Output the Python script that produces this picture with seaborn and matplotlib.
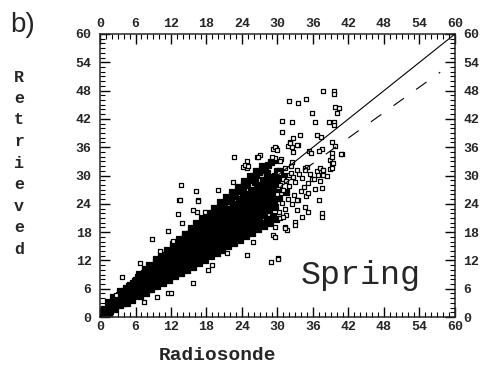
import matplotlib
matplotlib.use("Agg")
import matplotlib.pyplot as plt
from matplotlib.ticker import MultipleLocator
import numpy as np
import pandas as pd
import seaborn as sns

# (radiosonde, retrieved) pairs, grouped by region
core_0_6 = [
    (0.4, 0.6), (0.7, 1.1), (0.9, 0.4), (1.0, 1.5), (0.6, 1.8), (1.2, 0.9),
    (1.3, 1.6), (1.5, 2.4), (1.7, 1.2), (1.8, 2.9), (1.4, 3.1), (1.9, 2.0), (1.6, 0.9),
    (2.1, 2.2), (2.3, 3.5), (2.5, 1.8), (2.6, 4.0), (2.8, 2.9), (2.2, 4.3), (2.9, 3.6), (2.4, 2.6),
    (3.1, 3.0), (3.2, 4.6), (3.4, 2.5), (3.5, 5.2), (3.6, 3.8), (3.8, 4.4), (3.9, 2.9), (3.3, 5.6), (3.7, 3.3),
    (4.0, 4.1), (4.1, 5.6), (4.3, 3.4), (4.4, 6.2), (4.5, 4.8), (4.6, 3.0), (4.8, 5.3), (4.9, 6.6), (4.2, 4.5), (4.7, 4.0),
    (5.0, 4.6), (5.1, 6.8), (5.2, 3.9), (5.3, 5.7), (5.5, 7.3), (5.6, 4.4), (5.7, 6.1), (5.8, 5.0), (5.9, 7.6), (5.4, 3.6), (5.6, 6.5),
]
core_6_12 = [
    (6.0, 5.5), (6.1, 7.9), (6.2, 4.6), (6.3, 6.6), (6.4, 8.4), (6.5, 5.2), (6.6, 7.1), (6.7, 4.4), (6.8, 6.0), (6.9, 8.7), (6.3, 7.5), (6.6, 9.2),
    (7.0, 6.4), (7.1, 8.3), (7.2, 5.3), (7.3, 7.2), (7.4, 9.4), (7.5, 6.0), (7.6, 8.0), (7.7, 5.1), (7.8, 7.4), (7.9, 9.8), (7.3, 6.7), (7.6, 10.1),
    (8.0, 7.1), (8.1, 9.3), (8.2, 6.0), (8.3, 8.2), (8.4, 10.5), (8.5, 6.8), (8.6, 9.0), (8.7, 5.9), (8.8, 7.8), (8.9, 10.8), (8.3, 11.0), (8.6, 8.5),
    (9.0, 8.1), (9.1, 10.2), (9.2, 6.8), (9.3, 9.0), (9.4, 11.6), (9.5, 7.6), (9.6, 9.8), (9.7, 6.5), (9.8, 8.7), (9.9, 11.9), (9.4, 12.3), (9.7, 10.6),
    (10.0, 9.0), (10.1, 11.3), (10.2, 7.5), (10.3, 10.0), (10.4, 12.6), (10.5, 8.3), (10.6, 10.8), (10.7, 7.2), (10.8, 9.5), (10.9, 12.9), (10.3, 13.2), (10.6, 11.7), (10.8, 8.0),
    (11.0, 9.8), (11.1, 12.2), (11.2, 8.2), (11.3, 10.9), (11.4, 13.7), (11.5, 9.1), (11.6, 11.7), (11.7, 7.9), (11.8, 10.4), (11.9, 14.0), (11.3, 14.3), (11.6, 12.8), (11.8, 9.0),
]
core_12_18 = [
    (12.0, 10.7), (12.1, 13.1), (12.2, 8.9), (12.3, 11.8), (12.4, 14.8), (12.5, 9.9), (12.6, 12.6), (12.7, 8.6), (12.8, 11.3), (12.9, 15.2), (12.3, 15.5), (12.6, 13.8), (12.8, 9.8), (12.4, 10.3),
    (13.0, 11.6), (13.1, 14.1), (13.2, 9.6), (13.3, 12.7), (13.4, 15.9), (13.5, 10.6), (13.6, 13.5), (13.7, 9.3), (13.8, 12.2), (13.9, 16.3), (13.3, 16.6), (13.6, 14.8), (13.8, 10.5), (13.4, 11.2),
    (14.0, 12.4), (14.1, 15.0), (14.2, 10.4), (14.3, 13.6), (14.4, 17.0), (14.5, 11.4), (14.6, 14.4), (14.7, 10.0), (14.8, 13.1), (14.9, 17.5), (14.3, 17.7), (14.6, 15.9), (14.8, 11.2), (14.4, 12.0), (14.7, 16.6),
    (15.0, 13.3), (15.1, 16.0), (15.2, 11.1), (15.3, 14.5), (15.4, 18.1), (15.5, 12.2), (15.6, 15.4), (15.7, 10.7), (15.8, 14.0), (15.9, 18.6), (15.3, 18.8), (15.6, 17.0), (15.8, 12.0), (15.4, 12.9), (15.7, 16.5),
    (16.0, 14.1), (16.1, 17.0), (16.2, 11.9), (16.3, 15.4), (16.4, 19.2), (16.5, 13.0), (16.6, 16.3), (16.7, 11.4), (16.8, 14.9), (16.9, 19.7), (16.3, 19.9), (16.6, 18.0), (16.8, 12.8), (16.4, 13.8), (16.7, 17.5),
    (17.0, 15.0), (17.1, 18.0), (17.2, 12.6), (17.3, 16.3), (17.4, 20.3), (17.5, 13.8), (17.6, 17.2), (17.7, 12.1), (17.8, 15.8), (17.9, 20.8), (17.3, 21.0), (17.6, 19.0), (17.8, 13.6), (17.4, 14.6), (17.7, 18.5), (17.2, 17.6),
]
core_18_24 = [
    (18.0, 15.8), (18.1, 19.0), (18.2, 13.4), (18.3, 17.2), (18.4, 21.4), (18.5, 14.6), (18.6, 18.1), (18.7, 12.9), (18.8, 16.7), (18.9, 21.9), (18.3, 22.1), (18.6, 20.0), (18.8, 14.4), (18.4, 15.4), (18.7, 19.5), (18.2, 18.5),
    (19.0, 16.7), (19.1, 20.0), (19.2, 14.1), (19.3, 18.1), (19.4, 22.5), (19.5, 15.4), (19.6, 19.1), (19.7, 13.6), (19.8, 17.6), (19.9, 23.0), (19.3, 23.2), (19.6, 21.0), (19.8, 15.2), (19.4, 16.2), (19.7, 20.4), (19.2, 19.4),
    (20.0, 17.5), (20.1, 20.9), (20.2, 14.8), (20.3, 19.0), (20.4, 23.6), (20.5, 16.2), (20.6, 20.0), (20.7, 14.3), (20.8, 18.5), (20.9, 24.1), (20.3, 24.3), (20.6, 22.0), (20.8, 16.0), (20.4, 17.1), (20.7, 21.4), (20.2, 20.3),
    (21.0, 18.4), (21.1, 21.9), (21.2, 15.6), (21.3, 19.9), (21.4, 24.6), (21.5, 17.0), (21.6, 20.9), (21.7, 15.0), (21.8, 19.4), (21.9, 25.2), (21.3, 25.4), (21.6, 23.0), (21.8, 16.8), (21.4, 17.9), (21.7, 22.4), (21.2, 21.2),
    (22.0, 19.2), (22.1, 22.9), (22.2, 16.3), (22.3, 20.8), (22.4, 25.7), (22.5, 17.8), (22.6, 21.8), (22.7, 15.7), (22.8, 20.3), (22.9, 26.3), (22.3, 26.5), (22.6, 24.0), (22.8, 17.6), (22.4, 18.7), (22.7, 23.4), (22.2, 22.1),
    (23.0, 20.1), (23.1, 23.9), (23.2, 17.0), (23.3, 21.7), (23.4, 26.8), (23.5, 18.6), (23.6, 22.7), (23.7, 16.4), (23.8, 21.2), (23.9, 27.4), (23.3, 27.6), (23.6, 25.0), (23.8, 18.4), (23.4, 19.5), (23.7, 24.4), (23.2, 23.0),
]
core_24_30 = [
    (24.0, 21.0), (24.1, 24.8), (24.2, 17.8), (24.3, 22.6), (24.4, 27.9), (24.5, 19.4), (24.6, 23.6), (24.7, 17.2), (24.8, 22.1), (24.9, 28.5), (24.3, 28.8), (24.6, 26.0), (24.8, 19.2), (24.4, 20.3), (24.7, 25.4),
    (25.0, 21.8), (25.1, 25.8), (25.2, 18.5), (25.3, 23.5), (25.4, 29.0), (25.5, 20.2), (25.6, 24.6), (25.7, 17.9), (25.8, 23.0), (25.9, 29.6), (25.3, 30.0), (25.6, 27.0), (25.8, 20.0), (25.4, 21.2), (25.7, 26.4),
    (26.0, 22.7), (26.1, 26.8), (26.2, 19.3), (26.3, 24.4), (26.4, 30.1), (26.5, 21.0), (26.6, 25.5), (26.7, 18.6), (26.8, 23.9), (26.9, 30.7), (26.3, 31.0), (26.6, 28.0), (26.8, 20.8), (26.4, 22.0),
    (27.0, 23.5), (27.1, 27.8), (27.2, 20.0), (27.3, 25.3), (27.4, 31.2), (27.5, 21.8), (27.6, 26.4), (27.7, 19.3), (27.8, 24.8), (27.9, 31.8), (27.3, 32.1), (27.6, 29.0), (27.8, 21.6), (27.4, 22.8),
    (28.0, 24.4), (28.1, 28.7), (28.2, 20.8), (28.3, 26.2), (28.4, 32.2), (28.5, 22.6), (28.6, 27.4), (28.7, 20.0), (28.8, 25.7), (28.9, 32.8), (28.3, 30.0), (28.6, 23.6),
    (29.0, 25.2), (29.1, 29.7), (29.2, 21.5), (29.3, 27.1), (29.4, 33.2), (29.5, 23.4), (29.6, 28.3), (29.7, 20.7), (29.8, 26.6), (29.9, 31.0), (29.4, 24.4),
]
core_30_39 = [
    (30.0, 26.1), (30.2, 30.6), (30.3, 22.3), (30.5, 28.0), (30.6, 33.6), (30.8, 24.2), (30.9, 29.2), (30.4, 21.0), (30.7, 26.9),
    (31.0, 27.0), (31.2, 31.5), (31.3, 23.0), (31.5, 28.9), (31.7, 25.0), (31.9, 30.1), (31.4, 21.7),
    (32.0, 27.8), (32.2, 30.5), (32.4, 23.9), (32.6, 29.6), (32.8, 25.8), (32.3, 32.0),
    (33.0, 28.6), (33.3, 31.1), (33.5, 24.8), (33.7, 30.3), (33.9, 26.7),
    (34.1, 29.5), (34.4, 27.6), (34.7, 31.5), (34.9, 25.6),
    (35.2, 28.4), (35.5, 30.4), (35.8, 29.3),
    (36.2, 29.2), (36.6, 30.9), (37.1, 28.8), (37.7, 30.2), (38.3, 29.9), (38.8, 31.4),
]
# extra fill for the solid core of the cloud
core_fill = [
    (2.0, 2.7), (3.0, 3.9), (4.0, 5.0), (5.0, 5.7), (6.0, 6.8), (6.5, 6.2), (7.0, 7.6), (7.5, 8.7),
    (8.0, 8.0), (8.5, 9.7), (9.0, 9.4), (9.5, 10.8), (10.0, 10.2), (10.5, 11.9), (11.0, 11.2), (11.5, 12.9),
    (12.0, 12.2), (12.5, 13.9), (13.0, 13.1), (13.5, 14.5), (14.0, 13.9), (14.5, 15.5), (15.0, 14.9), (15.5, 16.6),
    (16.0, 15.8), (16.5, 17.4), (17.0, 16.8), (17.5, 18.7), (18.0, 17.6), (18.5, 19.3), (19.0, 18.5), (19.5, 20.4),
    (20.0, 19.4), (20.5, 21.3), (21.0, 20.3), (21.5, 22.2), (22.0, 21.2), (22.5, 23.2), (23.0, 22.2), (23.5, 24.1),
    (24.0, 23.1), (24.5, 25.0), (25.0, 24.0), (25.5, 25.9), (26.0, 24.9), (26.5, 27.0), (27.0, 25.9), (27.5, 27.9),
    (28.0, 26.8), (28.5, 29.0), (29.0, 27.9), (29.5, 30.0), (30.0, 29.2), (30.5, 31.0), (31.0, 29.8), (31.5, 26.4),
    (12.2, 9.9), (13.2, 10.9), (14.2, 11.8), (15.2, 12.8), (16.2, 13.6), (17.2, 14.6), (18.2, 15.2), (19.2, 16.0),
    (20.2, 17.0), (21.2, 17.8), (22.2, 18.8), (23.2, 19.6), (24.2, 20.4), (25.2, 21.4), (26.2, 22.3), (27.2, 23.2),
    (28.2, 24.0), (29.2, 25.0), (30.2, 25.2), (12.2, 14.0), (14.2, 16.3), (16.2, 18.6), (18.2, 20.8), (20.2, 22.8),
    (22.2, 24.6), (24.2, 26.6), (26.2, 28.6), (28.2, 30.6),
]
scatter_high = [
    (37.7, 47.9), (39.5, 47.9), (39.5, 47.2), (31.9, 45.8), (33.4, 45.3), (34.8, 46.2),
    (35.8, 43.2), (39.7, 44.5), (40.4, 44.3), (40.0, 43.2), (30.7, 41.5), (32.4, 41.3),
    (36.3, 41.3), (38.7, 41.3), (39.5, 41.3), (39.5, 40.7), (30.7, 39.2), (33.8, 38.6),
    (36.7, 38.6), (37.3, 38.1), (32.6, 37.9), (32.1, 37.1), (31.8, 36.2), (39.2, 37.1),
    (39.7, 36.2), (29.7, 35.8), (29.2, 35.6), (32.4, 36.0), (32.6, 35.0), (33.4, 36.4),
    (35.3, 35.2), (35.6, 34.7), (37.5, 35.6), (37.0, 35.2), (40.9, 34.5), (39.2, 34.7),
    (38.9, 33.3), (26.5, 33.9), (27.0, 34.3), (24.8, 33.1), (29.6, 33.7), (29.1, 33.9),
    (30.4, 33.1), (32.4, 32.8), (37.2, 31.6), (37.7, 31.1), (35.0, 31.8), (34.6, 31.1),
    (39.2, 32.6), (39.2, 31.6), (24.2, 31.8), (24.8, 31.6), (22.6, 33.9), (29.6, 36.0),
    (29.9, 35.4), (32.1, 36.9), (33.3, 36.4), (26.7, 33.9), (24.5, 32.2), (25.0, 32.0),
    (13.7, 28.0), (16.2, 26.7), (16.6, 24.8), (13.3, 24.8), (13.2, 21.8), (13.9, 19.9),
    (11.5, 18.2), (12.3, 16.1), (8.8, 16.5), (10.1, 14.0), (6.8, 11.4), (3.7, 8.5),
    (2.7, 4.7), (19.9, 26.9), (22.5, 28.6), (16.4, 22.2), (17.7, 22.2), (13.5, 24.8),
    (16.6, 24.6), (15.7, 22.7), (40.7, 34.5), (39.2, 33.9), (39.4, 32.6),
]
scatter_low = [
    (37.7, 31.1), (36.8, 30.1), (37.5, 27.3), (36.3, 27.1), (35.1, 26.3), (37.0, 24.8),
    (37.5, 22.0), (37.5, 21.2), (34.6, 23.3), (35.1, 22.2), (34.1, 21.2), (32.9, 20.1),
    (32.9, 19.5), (33.3, 24.8), (33.3, 22.7), (31.3, 19.1), (31.6, 18.4), (29.6, 19.1),
    (29.2, 17.4), (30.1, 12.5), (28.9, 11.7), (30.1, 12.3), (7.4, 3.2), (9.6, 4.2),
    (11.5, 5.1), (12.0, 5.1), (15.7, 7.2), (18.2, 10.0), (18.9, 11.0), (21.5, 13.6),
    (24.8, 13.1), (25.8, 15.9), (29.6, 17.0), (30.9, 21.2), (31.3, 18.9),
]

one_to_one_x = [0, 60]
one_to_one_y = [0, 60]
fit_x = [0, 57.5]
fit_y = [0.2, 51.9]

ticks = [0, 6, 12, 18, 24, 30, 36, 42, 48, 54, 60]
ylabel_letters = list("Retrieved")

cols = ["Radiosonde", "Retrieved"]
core = pd.DataFrame(core_0_6 + core_6_12 + core_12_18 + core_18_24 + core_24_30 + core_fill,
                    columns=cols)
loose = pd.DataFrame(core_30_39 + scatter_high + scatter_low, columns=cols)

sns.set_style("ticks")
plt.rcParams["font.family"] = ["Liberation Mono", "DejaVu Sans Mono"]

fig = plt.figure(figsize=(4.85, 3.68), dpi=100)
ax = fig.add_axes([100 / 485, 1 - 317 / 368, 355 / 485, 283 / 368])

# the dense core reads as solid black in the original (overlapping squares)
sns.scatterplot(data=core, x="Radiosonde", y="Retrieved", ax=ax, marker="s", s=13,
                facecolor="black", edgecolor="black", linewidth=0.9, legend=False, zorder=2)
sns.scatterplot(data=loose, x="Radiosonde", y="Retrieved", ax=ax, marker="s", s=10,
                facecolor="white", edgecolor="black", linewidth=0.9, legend=False, zorder=2)
sns.lineplot(x=one_to_one_x, y=one_to_one_y, ax=ax, color="black", lw=0.8, zorder=3)
sns.lineplot(x=fit_x, y=fit_y, ax=ax, color="black", lw=0.8, zorder=3,
             linestyle=(0, (11.5, 13.5)))

ax.set_xlim(0, 60)
ax.set_ylim(0, 60)
ax.set_xticks(ticks)
ax.set_yticks(ticks)
ax.xaxis.set_minor_locator(MultipleLocator(1))
ax.yaxis.set_minor_locator(MultipleLocator(1))
ax.set_xlabel("")
ax.set_ylabel("")

for sp in ax.spines.values():
    sp.set_linewidth(1.1)
    sp.set_visible(True)

ax.tick_params(which="both", direction="in", top=True, right=True,
               labeltop=True, labelright=True, color="black", width=1.0)
ax.tick_params(which="major", length=7)
ax.tick_params(which="minor", length=3.5, width=0.8)
ax.tick_params(axis="x", which="major", pad=3)
ax.tick_params(axis="y", which="major", pad=6)
for lab in ax.get_xticklabels() + ax.get_yticklabels():
    lab.set_fontweight("bold")
    lab.set_fontsize(9.5)

fig.text(10 / 485, 1 - 12 / 368, "b)", family="Liberation Sans", fontsize=20,
         ha="left", va="top")
fig.text(218 / 485, 1 - 355 / 368, "Radiosonde", fontsize=14, fontweight="bold",
         ha="center", va="center")
for i, ch in enumerate(ylabel_letters):
    fig.text(19 / 485, 1 - (77 + i * 21.5) / 368, ch, fontsize=12, fontweight="bold",
             ha="center", va="center")
ax.text(0.735, 0.115, "Spring", transform=ax.transAxes, fontsize=24,
        ha="center", va="baseline")

fig.savefig("out.png", dpi=100)
